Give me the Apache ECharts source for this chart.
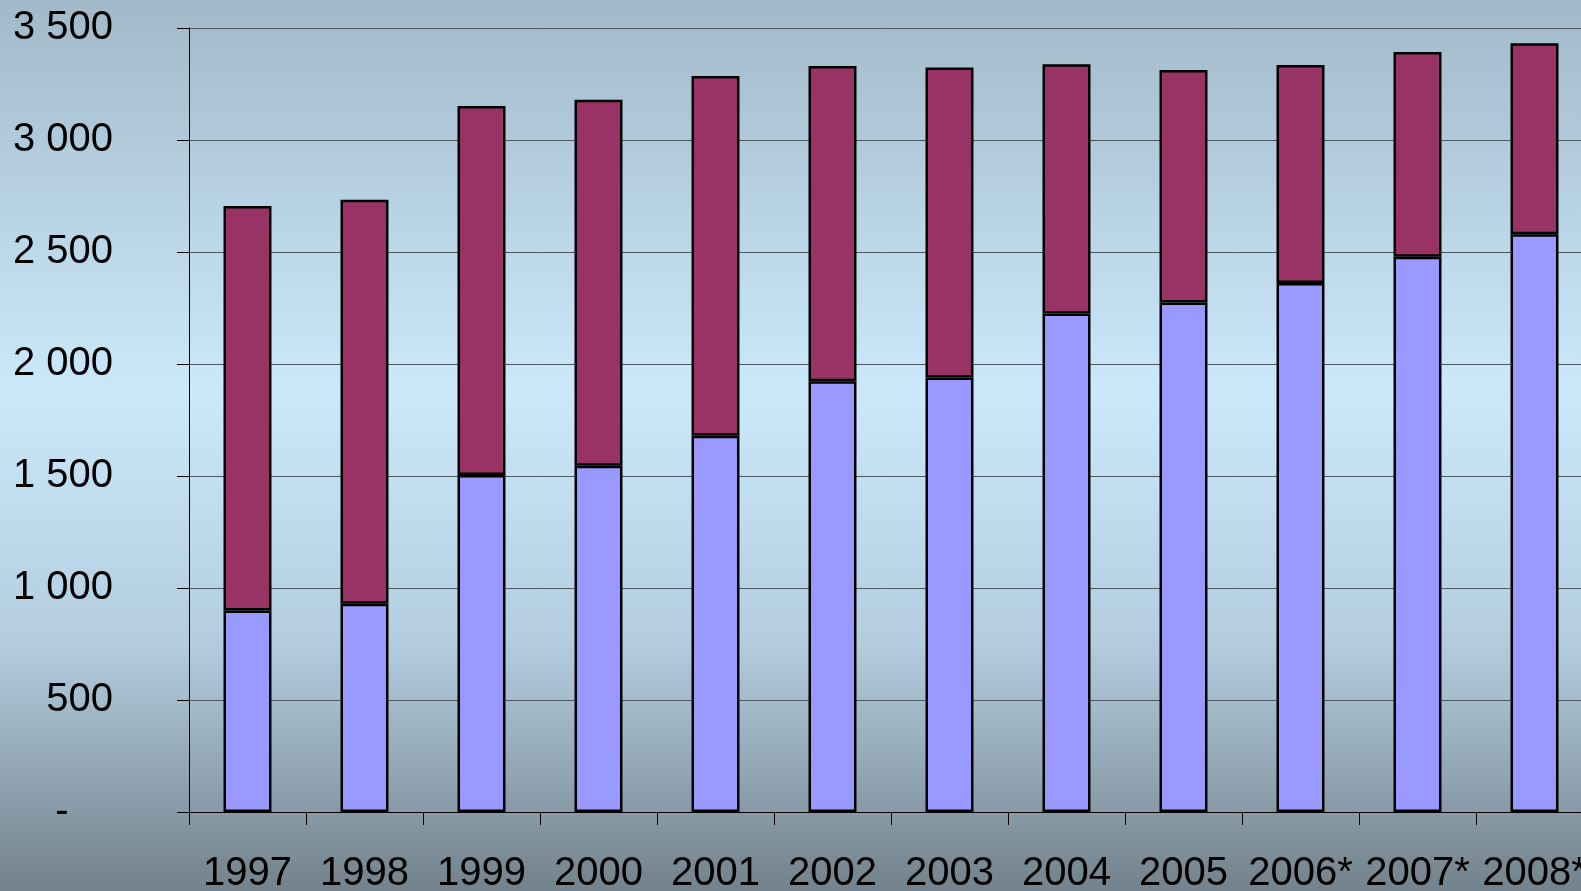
<!DOCTYPE html>
<html>
<head>
<meta charset="utf-8">
<title>1997–2008</title>
<script src="https://cdn.jsdelivr.net/npm/echarts@6/dist/echarts.min.js"></script>
<style>
  html, body { margin: 0; padding: 0; width: 100%; height: 100%; overflow: hidden; }
  #chart { width: 1581px; height: 891px; }
</style>
</head>
<body>
<div id="chart"></div>
<script>
// Years on the category axis (asterisk marks estimates)
const years = ['1997', '1998', '1999', '2000', '2001', '2002', '2003', '2004', '2005', '2006*', '2007*', '2008*'];

// Lower (lavender) segment of each stacked column
const lowerPart = [900, 930, 1504, 1546, 1680, 1923, 1940, 2226, 2275, 2362, 2479, 2579];

// Upper (maroon) segment stacked on top
const upperPart = [1805, 1803, 1648, 1634, 1606, 1407, 1384, 1112, 1038, 973, 914, 853];

// Value axis range
const yMin = 0;
const yMax = 3500;
const yStep = 500;

const fontFamily = '"Liberation Sans", Arial, sans-serif';

// "3 500" style labels; zero is shown as a dash padded like an accounting format
function formatTick(v) {
  if (v === 0) return '-    ';
  return String(v).replace(/\B(?=(\d{3})+(?!\d))/g, ' ');
}

const chart = echarts.init(document.getElementById('chart'), null, { renderer: 'canvas' });

chart.setOption({
  animation: false,
  backgroundColor: {
    type: 'linear', x: 0, y: 0, x2: 0, y2: 1,
    colorStops: [
      { offset: 0, color: '#a2b9c9' },
      { offset: 0.44, color: '#cbe9fb' },
      { offset: 0.72, color: '#b3cddf' },
      { offset: 1, color: '#73828c' }
    ]
  },
  // the plot runs past the right edge and its labels past the bottom, so no auto-fitting
  grid: { left: 189, top: 28, width: 1404, height: 784, containLabel: false, outerBoundsMode: 'none' },
  xAxis: {
    type: 'category',
    data: years,
    boundaryGap: true,
    axisLine: { show: true, lineStyle: { color: '#000', width: 1 } },
    axisTick: { show: true, length: 13, lineStyle: { color: '#000', width: 1 } },
    axisLabel: {
      interval: 0,
      margin: 42,
      color: '#000',
      fontSize: 40,
      fontFamily: fontFamily
    },
    splitLine: { show: false }
  },
  yAxis: {
    type: 'value',
    min: yMin,
    max: yMax,
    interval: yStep,
    axisLine: { show: true, lineStyle: { color: '#000', width: 1 } },
    axisTick: { show: true, length: 12, lineStyle: { color: '#000', width: 1 } },
    axisLabel: {
      margin: 76,
      color: '#000',
      fontSize: 40,
      fontFamily: fontFamily,
      formatter: formatTick
    },
    splitLine: { show: true, lineStyle: { color: '#4d5860', width: 1 } }
  },
  series: [
    {
      name: 'lower',
      type: 'bar',
      stack: 'total',
      data: lowerPart,
      barWidth: '41%',
      itemStyle: { color: '#9999ff', borderColor: '#000', borderWidth: 2.5 }
    },
    {
      name: 'upper',
      type: 'bar',
      stack: 'total',
      data: upperPart,
      barWidth: '41%',
      itemStyle: { color: '#993366', borderColor: '#000', borderWidth: 2.5 }
    }
  ]
});
</script>
</body>
</html>
